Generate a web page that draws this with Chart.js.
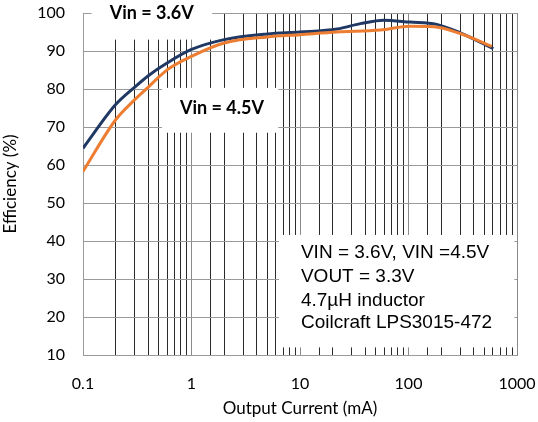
<!DOCTYPE html>
<html>
<head>
<meta charset="utf-8">
<script src="https://cdn.jsdelivr.net/npm/chart.js@4/dist/chart.umd.min.js"></script>
<style>
  html, body { margin: 0; padding: 0; background: #fff; }
  #wrap { width: 538px; height: 422px; }
</style>
</head>
<body>
<div id="wrap"><canvas id="eff" width="538" height="422"></canvas></div>
<script>
// Efficiency vs output current
var vin36Current = [0.1, 0.2, 0.3, 0.4, 0.6, 1, 2, 5, 10, 22, 36, 59, 103, 182, 300, 605];
var vin36Eff     = [64.4, 75.9, 80.5, 83.5, 86.9, 90.4, 93.0, 94.5, 95.0, 95.8, 97.2, 98.1, 97.6, 97.0, 94.8, 90.6];
var vin45Current = [0.1, 0.2, 0.3, 0.4, 0.6, 1, 2, 5, 10, 22, 55, 103, 170, 300, 585];
var vin45Eff     = [58.3, 71.9, 77.2, 80.5, 85.1, 88.6, 92.1, 93.7, 94.3, 95.0, 95.5, 96.5, 96.4, 94.6, 91.2];
var yTicks = [10, 20, 30, 40, 50, 60, 70, 80, 90, 100];
var noteLines = ['VIN = 3.6V, VIN =4.5V', 'VOUT = 3.3V', '4.7\u00b5H inductor', 'Coilcraft LPS3015-472'];

function toPoints(xs, ys) {
    return xs.map(function (x, i) { return { x: x, y: ys[i] }; });
}

function isMajor(v) {
    var l = Math.log10(v);
    return Math.abs(l - Math.round(l)) < 1e-6;
}

// white label boxes that cover the grid, plus their text
var labelBoxes = {
    id: 'labelBoxes',
    beforeDatasetsDraw: function (chart) {
        var ctx = chart.ctx;
        var xs = chart.scales.x, ys = chart.scales.y;
        function box(x0, x1, y0, y1) {
            var l = xs.getPixelForValue(x0), r = xs.getPixelForValue(x1);
            var t = y1 === null ? 0 : ys.getPixelForValue(y1), b = ys.getPixelForValue(y0);
            ctx.fillStyle = '#fff';
            ctx.fillRect(l, t, r - l, b - t);
        }
        ctx.save();
        box(0.12, 1.55, 93, null);
        box(0.535, 6.3, 68.5, 80.3);
        box(6.4, 946, 12.0, 41.6);

        ctx.fillStyle = '#000';
        ctx.textAlign = 'center';
        ctx.textBaseline = 'middle';
        ctx.font = 'bold 18px Lato';
        ctx.fillText('Vin = 3.6V', xs.getPixelForValue(0.43), ys.getPixelForValue(100));
        ctx.fillText('Vin = 4.5V', xs.getPixelForValue(1.91), ys.getPixelForValue(75));

        ctx.textAlign = 'left';
        ctx.font = '19px "Liberation Sans"';
        var noteY = [36.8, 30.5, 24.4, 18.6];
        for (var i = 0; i < noteLines.length; i++) {
            ctx.fillText(noteLines[i], xs.getPixelForValue(10.2), ys.getPixelForValue(noteY[i]));
        }
        ctx.restore();
    }
};

var ctx = document.getElementById('eff').getContext('2d');
var effChart = new Chart(ctx, {
    type: 'scatter',
    data: {
        datasets: [
            {
                label: 'Vin = 4.5V',
                data: toPoints(vin45Current, vin45Eff),
                showLine: true,
                borderColor: '#ED7D31',
                borderWidth: 3,
                pointRadius: 0,
                cubicInterpolationMode: 'monotone'
            },
            {
                label: 'Vin = 3.6V',
                data: toPoints(vin36Current, vin36Eff),
                showLine: true,
                borderColor: '#203864',
                borderWidth: 3,
                pointRadius: 0,
                cubicInterpolationMode: 'monotone'
            }
        ]
    },
    options: {
        responsive: false,
        animation: false,
        layout: { padding: { top: 13, right: 21, left: 0, bottom: 0 } },
        plugins: {
            legend: { display: false },
            tooltip: { enabled: false }
        },
        scales: {
            x: {
                type: 'logarithmic',
                min: 0.1,
                max: 1000,
                afterFit: function (s) {
                    s.height = 67;
                    s.paddingLeft = 0;
                    s.paddingRight = 0;
                },
                grid: {
                    drawTicks: false,
                    color: function (c) { return isMajor(c.tick.value) ? '#8a8a8a' : '#2a2a2a'; },
                    lineWidth: 1
                },
                border: { color: '#9a9a9a' },
                ticks: {
                    autoSkip: false,
                    maxRotation: 0,
                    padding: 19,
                    color: '#000',
                    font: { family: 'Lato', size: 16 },
                    callback: function (v) {
                        if (!isMajor(v)) return '';
                        return v < 1 ? v.toFixed(1) : String(Math.round(v));
                    }
                },
                title: {
                    display: true,
                    text: 'Output Current (mA)',
                    color: '#000',
                    font: { family: 'Lato', size: 17 },
                    padding: { top: 0, bottom: 3 }
                }
            },
            y: {
                min: 10,
                max: 100,
                afterFit: function (s) {
                    s.width = 83;
                    s.paddingTop = 0;
                    s.paddingBottom = 0;
                },
                afterBuildTicks: function (s) { s.ticks = yTicks.map(function (v) { return { value: v }; }); },
                grid: { drawTicks: false, color: '#9a9a9a', lineWidth: 1 },
                border: { color: '#9a9a9a' },
                ticks: {
                    padding: 18,
                    color: '#000',
                    font: { family: 'Lato', size: 16 }
                },
                title: {
                    display: true,
                    text: 'Efficiency (%)',
                    color: '#000',
                    font: { family: 'Lato', size: 17 },
                    padding: { top: 0, bottom: 0 }
                }
            }
        }
    },
    plugins: [labelBoxes]
});
</script>
</body>
</html>
